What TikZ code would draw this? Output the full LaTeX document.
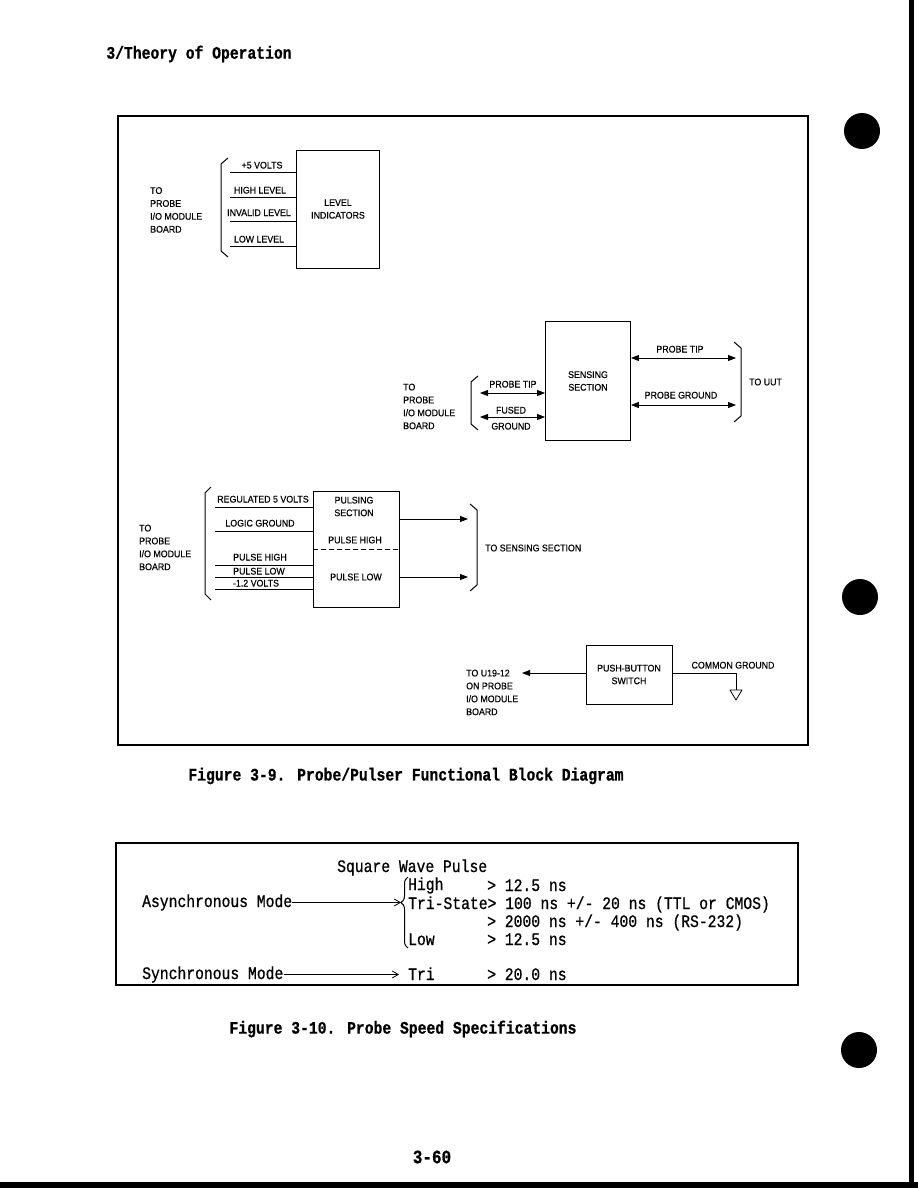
\documentclass[tikz,border=0pt]{standalone}
\usepackage{fontspec}
\setmainfont[FakeStretch=0.92,FakeBold=0.5]{Liberation Sans}
\newfontfamily\typefont[FakeStretch=0.84,FakeBold=0.8]{Liberation Mono}
\usetikzlibrary{arrows.meta,positioning,decorations.pathreplacing}

\tikzset{
  sig/.style={font=\fontsize{9.6}{12.7}\selectfont, inner sep=0pt, align=center},
  side/.style={font=\fontsize{9.6}{12.9}\selectfont, inner sep=0pt, align=left, anchor=north west},
  block/.style={draw, line width=0.9pt, inner sep=0pt, font=\fontsize{9.6}{12.7}\selectfont, align=center},
  wire/.style={line width=0.8pt},
  tip/.style={-{Triangle[length=8pt,width=6pt]}},
  bus/.style={{Triangle[length=8pt,width=6pt]}-{Triangle[length=8pt,width=6pt]}},
  brk/.style={line width=1pt, line join=round},
  tw/.style={font=\typefont\fontsize{17.5}{20}\selectfont, inner sep=0pt, anchor=base west},
  twb/.style={font=\typefont\bfseries\fontsize{17.5}{20}\selectfont, inner sep=0pt},
  mode/.style={line width=0.8pt, -{Straight Barb[length=6pt,width=7pt]}},
  frame/.style={line width=1.4pt},
  heavy/.style={line width=2.4pt}
}

\begin{document}
\begin{tikzpicture}[x=1pt,y=-1pt]
  \useasboundingbox (0,0) rectangle (918,1188);
  % page edges and punch marks
  \fill (909,0) rectangle (914,1188);
  \fill (0,1182) rectangle (918,1188);
  \fill (862,131) circle (18);
  \fill (860,597) circle (18);
  \fill (859,1050) circle (18);

  \node[twb] (head) at (199,54) {3/Theory of Operation};

  % Figure 3-9
  \draw[frame] (118,116) rectangle (808,745);
  \draw[heavy] (118,745) -- (808,745) -- (808,116);

  % level indicators
  \node[block, minimum width=83, minimum height=118] (level) at (338,209) {LEVEL\\INDICATORS};
  \foreach \y/\b/\x/\txt [count=\i] in {172/168.5/262/{+5 VOLTS},197/193.5/260/{HIGH LEVEL},
      221/216/259/{INVALID LEVEL},246/242.5/259/{LOW LEVEL}}{
    \coordinate (lv\i) at (230,\y);
    \draw[wire] (lv\i) -- (lv\i -| level.west);
    \node[sig, anchor=base] (lvt\i) at (\x,\b) {\txt};
  }
  \draw[brk] (228,158) -- (221,164) -- (221,251) -- (228,257);
  \node[side] (lvsrc) at (150,187) {TO\\PROBE\\I/O MODULE\\BOARD};

  % sensing section
  \node[block, minimum width=85, minimum height=119] (sense) at (588,381) {SENSING\\SECTION};
  \draw[brk] (478,376) -- (471,382) -- (471,424) -- (478,430);
  \node[side] (sensrc) at (403,383.5) {TO\\PROBE\\I/O MODULE\\BOARD};
  \coordinate (stipL) at (480,393);
  \coordinate (sgndL) at (480,417);
  \draw[wire,bus] (stipL) -- (stipL -| sense.west);
  \draw[wire,bus] (sgndL) -- (sgndL -| sense.west);
  \node[sig, anchor=base] (stipLt) at (513,387.5) {PROBE TIP};
  \node[sig, anchor=base] (fusedt) at (511,413.5) {FUSED};
  \node[sig, anchor=base] (groundt) at (511,429.5) {GROUND};
  \coordinate (stipR) at (736,358);
  \coordinate (sgndR) at (736,405);
  \draw[wire,bus] (sense.east |- stipR) -- (stipR);
  \draw[wire,bus] (sense.east |- sgndR) -- (sgndR);
  \node[sig, anchor=base] (stipRt) at (680,352.5) {PROBE TIP};
  \node[sig, anchor=base] (sgndRt) at (681,398.5) {PROBE GROUND};
  \draw[brk] (734,342) -- (741,348) -- (741,416) -- (734,422);
  \node[sig, anchor=west] (uut) at (749,382) {TO UUT};

  % pulsing section
  \node[block, minimum width=86, minimum height=116] (pulse) at (356,549.5) {};
  \draw[wire, dash pattern=on 5pt off 3pt] (pulse.west) -- (pulse.east);
  \node[sig] (pulset) at (354,506.5) {PULSING\\SECTION};
  \node[sig] (phight) at (355,540) {PULSE HIGH};
  \node[sig] (plowt) at (356,577) {PULSE LOW};
  \foreach \y/\b/\x/\txt [count=\i] in {507/502.5/263/{REGULATED 5 VOLTS},531/526.5/260/{LOGIC GROUND},
      565/560.5/260/{PULSE HIGH},577/574.5/259/{PULSE LOW},589/586.5/256/{-1.2 VOLTS}}{
    \coordinate (pw\i) at (215,\y);
    \draw[wire] (pw\i) -- (pw\i -| pulse.west);
    \node[sig, anchor=base] (pwt\i) at (\x,\b) {\txt};
  }
  \draw[brk] (211,487) -- (205,493) -- (205,594) -- (211,600);
  \node[side] (pulsrc) at (139,524.5) {TO\\PROBE\\I/O MODULE\\BOARD};
  \coordinate (ph) at (468,519);
  \coordinate (pl) at (468,577);
  \draw[wire,tip] (pulse.east |- ph) -- (ph);
  \draw[wire,tip] (pulse.east |- pl) -- (pl);
  \draw[brk] (470,504) -- (477,510) -- (477,585) -- (470,591);
  \node[sig, anchor=west] (tosense) at (485,548) {TO SENSING SECTION};

  % push-button switch
  \node[block, minimum width=86, minimum height=59] (push) at (629,674.5) {PUSH-BUTTON\\SWITCH};
  \coordinate (u19) at (522,673);
  \draw[wire,tip] (push.west |- u19) -- (u19);
  \node[side] (u19t) at (466,669.5) {TO U19-12\\ON PROBE\\I/O MODULE\\BOARD};
  \coordinate (gndc) at (736,673);
  \coordinate (gnd) at (736,690);
  \draw[wire] (push.east |- gndc) -- (gndc) -- (gnd);
  \draw[wire, line join=round] (730,690) -- (742,690) -- (736,700) -- cycle;
  \node[sig, anchor=base] (commont) at (733,668.5) {COMMON GROUND};

  \node[twb] (cap1) at (406,776) {Figure 3-9. Probe/Pulser Functional Block Diagram};

  % Figure 3-10
  \draw[frame] (116,843) rectangle (798,985);
  \draw[heavy] (116,985) -- (798,985) -- (798,843);
  \node[tw] (square) at (337,872) {Square Wave Pulse};
  \node[tw] (async) at (142,907) {Asynchronous Mode};
  \node[tw] (sync) at (142,979) {Synchronous Mode};
  \node[tw] (high) at (408,890) {High};
  \node[tw] (highv) at (487,891) {> 12.5 ns};
  \node[tw] (tri) at (408,909) {Tri-State> 100 ns +/- 20 ns (TTL or CMOS)};
  \node[tw] (rsv) at (487,927) {> 2000 ns +/- 400 ns (RS-232)};
  \node[tw] (low) at (408,945) {Low};
  \node[tw] (lowv) at (487,945) {> 12.5 ns};
  \node[tw] (trisync) at (408,980) {Tri};
  \node[tw] (syncv) at (487,980) {> 20.0 ns};
  \draw[line width=1pt, decorate, decoration={brace, amplitude=7pt, aspect=0.64}] (408,948) -- (408,877);
  \coordinate (asyncend) at (401,0);
  \coordinate (syncend) at (399,0);
  \draw[mode] (async.east) -- (async.east -| asyncend);
  \draw[mode] (sync.east) -- (sync.east -| syncend);

  \node[twb] (cap2) at (403,1029) {Figure 3-10. Probe Speed Specifications};
  \node[twb, font=\typefont\bfseries\fontsize{19}{22}\selectfont] (pageno) at (432,1157) {3-60};
\end{tikzpicture}
\end{document}
